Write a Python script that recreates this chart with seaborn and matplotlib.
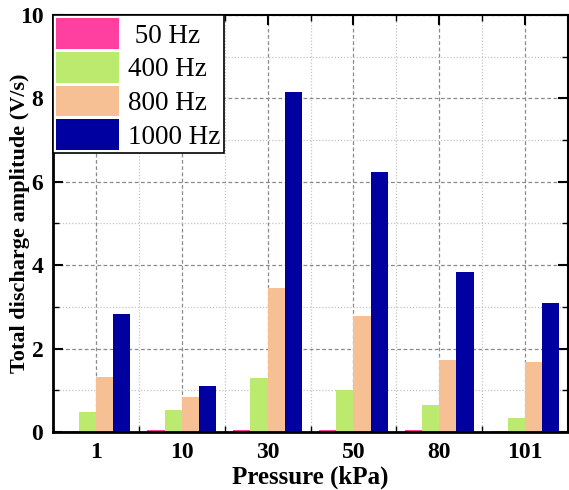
import matplotlib
matplotlib.use('Agg')
import matplotlib.pyplot as plt
import seaborn as sns
import pandas as pd
import numpy as np

# ---- data ----
pressures = ["1", "10", "30", "50", "80", "101"]
freqs = ["50 Hz", "400 Hz", "800 Hz", "1000 Hz"]
legend_labels = [" 50 Hz", "400 Hz", "800 Hz", "1000 Hz"]
amp_50 = [0.03, 0.04, 0.05, 0.05, 0.04, 0.02]
amp_400 = [0.49, 0.53, 1.29, 1.00, 0.64, 0.33]
amp_800 = [1.31, 0.85, 3.45, 2.78, 1.73, 1.68]
amp_1000 = [2.83, 1.10, 8.15, 6.23, 3.83, 3.10]
colors = ["#FF40A0", "#BBEA6E", "#F7BF94", "#0000A0"]

series = [amp_50, amp_400, amp_800, amp_1000]
rows = []
for f, vals in zip(freqs, series):
    for p, v in zip(pressures, vals):
        rows.append({"Pressure": p, "Frequency": f, "Amplitude": v})
df = pd.DataFrame(rows)

sns.set_style('ticks')
plt.rcParams['font.family'] = ['Liberation Serif', 'DejaVu Serif']
plt.rcParams['text.color'] = 'black'
plt.rcParams['axes.labelcolor'] = 'black'
plt.rcParams['xtick.color'] = 'black'
plt.rcParams['ytick.color'] = 'black'

fig = plt.figure(figsize=(5.69, 4.9), dpi=100)
ax = fig.add_axes([53 / 569, 58 / 490, 515 / 569, 417 / 490])

sns.barplot(data=df, x="Pressure", y="Amplitude", hue="Frequency",
            order=pressures, hue_order=freqs, palette=colors,
            saturation=1, width=0.8, linewidth=0, errorbar=None, ax=ax)

ax.set_xlim(-0.5, 5.5)
ax.set_ylim(0, 10)
ax.set_yticks(np.arange(0, 11, 2))
ax.set_yticks(np.arange(1, 10, 2), minor=True)
ax.set_xticks(np.arange(-0.5, 6, 1), minor=True)

ax.set_axisbelow(True)
ax.grid(which='major', axis='both', linestyle=(0, (3, 2)), color='#8a8a8a', linewidth=0.9)
ax.grid(which='minor', axis='both', linestyle=(0, (1, 1.5)), color='#c4c4c4', linewidth=0.9)

ax.tick_params(which='major', direction='in', top=True, right=True,
               length=7, width=1.5, pad=7, labelsize=17, color='black',
               labelcolor='black')
ax.tick_params(which='minor', direction='in', top=True, right=True,
               length=4, width=1.0, color='black')
for lab in ax.get_xticklabels() + ax.get_yticklabels():
    lab.set_fontweight('bold')

for side in ['left', 'bottom']:
    ax.spines[side].set_linewidth(2.0)
for side in ['top', 'right']:
    ax.spines[side].set_linewidth(1.5)
for s in ax.spines.values():
    s.set_color('black')

ax.set_xlabel("Pressure (kPa)", fontsize=18, fontweight='bold', labelpad=2, color='black')
ax.set_ylabel("Total discharge amplitude (V/s)", fontsize=16, fontweight='bold', color='black')
ax.yaxis.set_label_coords(-0.045, 0.5)

handles, _ = ax.get_legend_handles_labels()
leg = ax.legend(handles, legend_labels, loc='upper left', bbox_to_anchor=(0, 1),
                borderaxespad=0, fontsize=19.5, handlelength=2.3, handleheight=1.38,
                labelspacing=0.1, handletextpad=0.35, borderpad=0.12,
                frameon=True, fancybox=False, edgecolor='black', framealpha=1)
leg.get_frame().set_linewidth(1.2)
for t in leg.get_texts():
    t.set_color('black')

fig.savefig('out.png', dpi=100)
